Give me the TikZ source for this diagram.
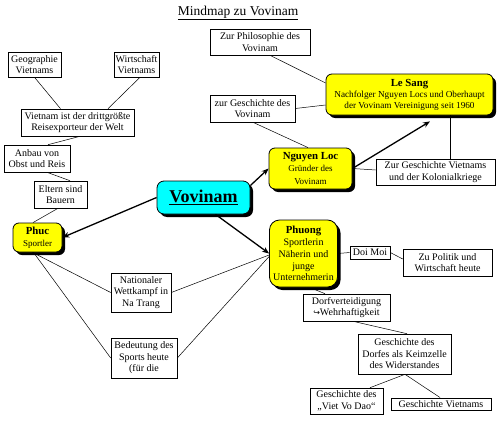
\documentclass[tikz,border=0pt]{standalone}
\usepackage{fontspec}
\setmainfont{Liberation Serif}
\newfontfamily\dejavu{DejaVu Sans}
\usetikzlibrary{shadows,arrows.meta,calc}
\definecolor{vcyan}{RGB}{0,255,255}
\definecolor{vyellow}{RGB}{255,255,0}
\tikzset{
  wbox/.style={draw, fill=white, line width=0.6pt, inner sep=1pt, align=center,
    font=\fontsize{10}{11.5}\selectfont,
    drop shadow={shadow xshift=1pt, shadow yshift=-1pt, fill=black, opacity=1}},
  ybox/.style={draw, fill=vyellow, rounded corners=6pt, line width=0.8pt, inner sep=1pt, align=center,
    font=\fontsize{9}{12.5}\selectfont,
    drop shadow={shadow xshift=3pt, shadow yshift=-3pt, fill=black, opacity=1}},
  sz/.style 2 args={minimum width=#1, minimum height=#2},
  link/.style={line width=0.5pt},
  arr/.style={line width=1.3pt, -{Stealth[length=7pt,width=5.5pt]}}
}
\newcommand{\nmtxt}[1]{{\fontsize{10.8}{12}\selectfont\bfseries #1}}
\begin{document}
\begin{tikzpicture}[x=1pt,y=-1pt]
\useasboundingbox (0,0) rectangle (500,420);
\node (title) at (238,13) {\fontsize{13.5}{15}\selectfont\underline{Mindmap zu Vovinam}};
\node[wbox, sz={53pt}{25pt}] (geo) at (34.5,64.5) {Geographie\\Vietnams};
\node[wbox, sz={45pt}{25pt}] (wirt) at (136.5,64.5) {Wirtschaft\\Vietnams};
\node[wbox, sz={113pt}{27pt}] (viet) at (77.5,122.5) {Vietnam ist der drittgrößte\\Reisexporteur der Welt};
\node[wbox, sz={66pt}{27pt}] (anbau) at (37,158.5) {Anbau von\\Obst und Reis};
\node[wbox, sz={53pt}{27pt}] (eltern) at (60.5,194.5) {Eltern sind\\Bauern};
\node[ybox, sz={49pt}{29pt}, font=\fontsize{9}{11.5}\selectfont] (phuc) at (37.5,237.5) {\nmtxt{Phuc}\\Sportler};
\node[draw, fill=vcyan, rounded corners=7pt, line width=0.8pt, sz={93pt}{33pt},
  drop shadow={shadow xshift=3pt, shadow yshift=-3pt, fill=black, opacity=1}]
  (vov) at (203.5,197.5) {\fontsize{18}{20}\selectfont\bfseries\underline{Vovinam}};
\node[ybox, sz={83pt}{41pt}] (nguyen) at (310.5,168.5) {\nmtxt{Nguyen Loc}\\Gründer des\\Vovinam};
\node[ybox, sz={167pt}{41pt}, font=\fontsize{9.2}{11}\selectfont] (lesang) at (409.5,94.5) {\nmtxt{Le Sang}\\Nachfolger Nguyen Locs und Oberhaupt\\der Vovinam Vereinigung seit 1960};
\node[wbox, sz={100pt}{26pt}] (philo) at (260,42) {Zur Philosophie des\\Vovinam};
\node[wbox, sz={85pt}{27pt}] (zgesch) at (252.5,108.5) {zur Geschichte des\\Vovinam};
\node[wbox, sz={119pt}{26pt}] (kolon) at (435.5,172) {Zur Geschichte Vietnams\\und der Kolonialkriege};
\node[ybox, sz={68pt}{67pt}, rounded corners=10pt, font=\fontsize{10}{11.8}\selectfont] (phuong) at (303.5,253.5) {\nmtxt{Phuong}\\Sportlerin\\Näherin und\\junge\\Unternehmerin};
\node[wbox, sz={60pt}{39pt}] (nat) at (141,292.5) {Nationaler\\Wettkampf in\\Na Trang};
\node[wbox, sz={66pt}{40pt}] (bed) at (144,358) {Bedeutung des\\Sports heute\\(für die};
\node[wbox, sz={40pt}{13pt}] (doimoi) at (370,252.5) {Doi Moi};
\node[wbox, sz={89pt}{27pt}] (politik) at (447.5,262.5) {Zu Politik und\\Wirtschaft heute};
\node[wbox, sz={87pt}{27pt}] (dorf) at (346.5,307.5) {Dorfverteidigung\\{\dejavu\fontsize{8}{9}\selectfont ↪}Wehrhaftigkeit};
\node[wbox, sz={93pt}{40pt}] (gdorf) at (404.5,354) {Geschichte des\\Dorfes als Keimzelle\\des Widerstandes};
\node[wbox, sz={73pt}{26pt}] (vvd) at (346.5,401) {Geschichte des\\„Viet Vo Dao“};
\node[wbox, sz={100pt}{12pt}, line width=1pt] (gviet) at (441,404) {Geschichte Vietnams};
% connectors
\draw[link] (geo.south) -- ($(viet.north)+(-17,0)$);
\draw[link] ($(wirt.south)+(3.5,0)$) -- ($(viet.north)+(30.5,0)$);
\draw[link] ($(viet.south)+(2.5,0)$) -- ($(anbau.north)+(11,0)$);
\draw[link] ($(anbau.south)+(10,0)$) -- ($(eltern.north)+(9.5,0)$);
\draw[link] ($(eltern.south)+(-2.5,0)$) -- ($(phuc.north)+(-4.5,0)$);
\draw[link] ($(phuc.south)+(-5,0)$) -- (nat.west);
\draw[link] ($(phuc.south)+(-4,0)$) -- (bed.west);
\draw[link] (nat.east) -- ($(phuong.west)+(0,1.5)$);
\draw[link] (bed.east) -- ($(phuong.west)+(0,3)$);
\draw[link] ($(philo.south)+(10,0)$) -- ($(lesang.west)+(0,-11.5)$);
\draw[link] (zgesch.east) -- ($(lesang.west)+(0,10.5)$);
\draw[link] ($(zgesch.south)+(0.5,0)$) -- ($(nguyen.north)+(-2.5,0)$);
\draw[link] ($(lesang.south)+(40.5,0)$) -- ($(kolon.north)+(14.5,0)$);
\draw[link] (nguyen.east) -- ($(kolon.west)+(0,-2)$);
\draw[link] (phuong.east) -- (doimoi.west);
\draw[link] (doimoi.east) -- ($(politik.west)+(0,-3.5)$);
\draw[link] ($(phuong.south)+(8.5,1)$) -- ($(dorf.north)+(-21.5,0)$);
\draw[link] ($(dorf.south)+(6.5,0)$) -- ($(gdorf.north)+(2.5,0)$);
\draw[link] ($(gdorf.south)+(0.5,0)$) -- ($(vvd.north)+(23.5,0)$);
\draw[link] ($(gdorf.south)+(0.5,0)$) -- ($(gviet.north)+(-1,0)$);
% arrows
\draw[arr] (vov.west) -- (phuc.east);
\draw[arr] ($(vov.east)+(0,-12)$) -- (nguyen.west);
\draw[arr] ($(vov.south)+(12,0)$) -- (phuong.west);
\draw[arr] (nguyen.east) -- ($(lesang.south)+(20.5,6)$);
\end{tikzpicture}
\end{document}
